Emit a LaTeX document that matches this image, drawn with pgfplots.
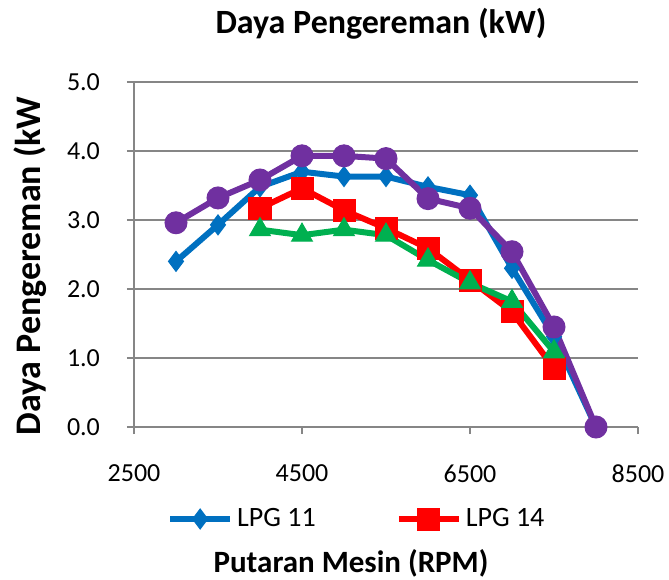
\documentclass[border=0pt]{standalone}
\usepackage{fontspec}
\setmainfont{Carlito}
\usepackage{pgfplots}
\pgfplotsset{compat=1.18}
\definecolor{lpgblue}{RGB}{0,112,192}
\definecolor{lpgred}{RGB}{255,0,0}
\definecolor{lpggreen}{RGB}{0,176,80}
\definecolor{lpgpurple}{RGB}{112,48,160}
\definecolor{gridgray}{RGB}{134,134,134}
\begin{document}
\begin{tikzpicture}
\useasboundingbox (-67pt,-76pt) rectangle (267.5pt,213.5pt);
\begin{axis}[
  scale only axis, width=252pt, height=172.5pt,
  xmin=2500, xmax=8500, ymin=0, ymax=5,
  clip=false,
  axis x line*=bottom, axis y line*=left,
  axis line style={gridgray, line width=0.8pt},
  xtick={2500,4500,6500,8500}, xticklabels={2500,4500,6500,8500},
  ytick={0,1,2,3,4,5}, yticklabels={0.0,1.0,2.0,3.0,4.0,5.0},
  tick align=outside, major tick length=3.5pt,
  tick style={gridgray, line width=0.8pt},
  ymajorgrids, grid style={gridgray, line width=0.8pt},
  ticklabel style={font=\fontsize{13}{15}\selectfont},
  xticklabel style={yshift=-12pt},
  yticklabel style={xshift=-10pt},
  title={Daya Pengereman (kW)},
  title style={font=\bfseries\fontsize{17}{20}\selectfont, at={(0.5,1)}, anchor=center, yshift=23pt, xshift=-2.5pt},
  xlabel={Putaran Mesin (RPM)},
  xlabel style={font=\bfseries\fontsize{15.5}{18}\selectfont, at={(axis description cs:0.4306,-0.394)}, anchor=center},
  ylabel={Daya Pengereman (kW},
  ylabel style={font=\bfseries\fontsize{18}{20}\selectfont, at={(axis description cs:-0.2063,0.4667)}, anchor=center},
  legend style={at={(axis description cs:0.444,-0.2667)}, anchor=center, draw=none, fill=none,
    font=\fontsize{14}{16}\selectfont, legend columns=2,
    /tikz/every even column/.append style={column sep=38pt}},
  legend image code/.code={\draw[mark repeat=2,mark phase=2] plot coordinates {(0pt,0pt)(15pt,0pt)(30pt,0pt)};},
  every axis plot/.append style={line width=3pt},
]
\addplot[lpgblue, mark=diamond*, mark size=5pt, mark options={solid, line width=0.5pt}] coordinates {
  (3000,2.40)(3500,2.93)(4000,3.48)(4500,3.70)(5000,3.63)(5500,3.63)
  (6000,3.48)(6500,3.36)(7000,2.30)(7500,1.31)(8000,0)
};
\addplot[lpgred, mark=square*, mark size=5.5pt, mark options={solid, line width=0.5pt}] coordinates {
  (4000,3.17)(4500,3.46)(5000,3.14)(5500,2.88)(6000,2.59)(6500,2.13)(7000,1.67)(7500,0.85)
};
\addplot[lpggreen, mark=triangle*, mark size=6pt, mark options={solid, line width=0.5pt}] coordinates {
  (4000,2.86)(4500,2.78)(5000,2.86)(5500,2.78)(6000,2.42)(6500,2.09)(7000,1.82)(7500,1.09)
};
\addplot[lpgpurple, mark=*, mark size=5.5pt, mark options={solid, line width=0.5pt}] coordinates {
  (3000,2.96)(3500,3.32)(4000,3.58)(4500,3.93)(5000,3.93)(5500,3.89)
  (6000,3.31)(6500,3.17)(7000,2.54)(7500,1.45)(8000,0)
};
\legend{LPG 11, LPG 14}
\end{axis}
\end{tikzpicture}
\end{document}
